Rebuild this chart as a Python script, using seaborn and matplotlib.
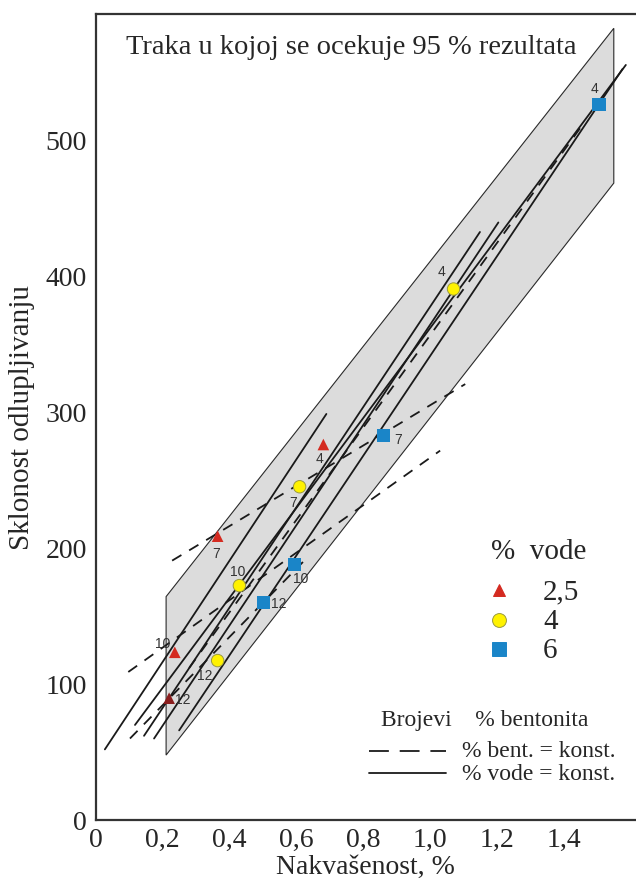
import numpy as np
import pandas as pd
import matplotlib
matplotlib.use("Agg")
import matplotlib.pyplot as plt
from matplotlib.lines import Line2D
from matplotlib.patches import Polygon
import seaborn as sns

# values
bentonite = [12, 10, 7, 4]
water_levels = ['2,5', '4', '6']

x_voda25 = [0.220, 0.237, 0.365, 0.681]
y_voda25 = [89.7, 123.5, 209.0, 276.5]
x_voda4 = [0.365, 0.430, 0.610, 1.070]
y_voda4 = [117.4, 172.6, 245.4, 391.0]
x_voda6 = [0.501, 0.594, 0.860, 1.505]
y_voda6 = [160.0, 188.0, 283.3, 527.0]

# 95 % band (corners)
band_x = [0.211, 0.211, 1.549, 1.549]
band_y = [47.8, 164.5, 583.0, 469.0]

# % vode = konst. (solid) and % bent. = konst. (dashed), end points
solid_x = [(0.028, 0.690), (0.118, 1.585), (0.145, 1.149), (0.175, 1.204), (0.250, 1.575)]
solid_y = [(52, 299), (70, 556), (62, 433), (60, 440), (66, 553)]
dashed_x = [(0.229, 1.105), (0.098, 1.030), (0.103, 0.620), (0.280, 1.450)]
dashed_y = [(191, 321), (109, 272), (60, 190), (112, 510)]

x_ticks = [0, 0.2, 0.4, 0.6, 0.8, 1.0, 1.2, 1.4]
x_tick_labels = ['0', '0,2', '0,4', '0,6', '0,8', '1,0', '1,2', '1,4']
y_ticks = [0, 100, 200, 300, 400, 500]

df = pd.DataFrame({
    'x': x_voda25 + x_voda4 + x_voda6,
    'y': y_voda25 + y_voda4 + y_voda6,
    'voda': [w for w in water_levels for _ in bentonite],
    'bent': bentonite * 3,
})

sns.set_style('white')
plt.rcParams['font.family'] = ['Liberation Serif', 'DejaVu Serif']

W, H = 636, 891
fig = plt.figure(figsize=(W / 100, H / 100), dpi=100)
ax = fig.add_axes([95.5 / W, 71 / H, 1 - 95.5 / W, 806 / H])
ax.set_xlim(0, 540.5 / 334.6)
ax.set_ylim(0, 806 / 1.358)

ax.add_patch(Polygon(list(zip(band_x, band_y)), closed=True, facecolor='#dcdcdc',
                     edgecolor='#2a2a2a', lw=0.8, zorder=1))

for xs, ys in zip(solid_x, solid_y):
    ax.plot(xs, ys, color='#1a1a1a', lw=1.3, zorder=3)
for xs, ys in zip(dashed_x, dashed_y):
    ax.plot(xs, ys, color='#1a1a1a', lw=1.3, dashes=(6, 5), zorder=3)

colors = {'2,5': '#d42a20', '4': '#fff200', '6': '#1a85c8'}
markers = {'2,5': '^', '4': 'o', '6': 's'}
sizes = {'2,5': 70, '4': 80, '6': 90}
edges = {'2,5': 'none', '4': '#9a9a40', '6': 'none'}
for w in water_levels:
    sub = df[df.voda == w]
    pal = {b: colors[w] for b in bentonite}
    if w == '2,5':
        pal[12] = '#8a1e1e'  # this one sits under a line and looks darker
    sns.scatterplot(data=sub, x='x', y='y', hue='bent', palette=pal,
                    marker=markers[w], s=sizes[w], edgecolor=edges[w],
                    linewidth=0.7, ax=ax, zorder=5, legend=False)

# number labels next to points (offsets in pixels)
offsets = {
    ('2,5', 12): (14, -2), ('2,5', 10): (-12, 8), ('2,5', 7): (-2, -18), ('2,5', 4): (-4, -14),
    ('4', 12): (-13, -15), ('4', 10): (-2, 14), ('4', 7): (-6, -16), ('4', 4): (-12, 17),
    ('6', 12): (16, -1), ('6', 10): (6, -14), ('6', 7): (15, -5), ('6', 4): (-5, 15),
}
for _, r in df.iterrows():
    ax.annotate(str(r.bent), (r.x, r.y), xytext=offsets[(r.voda, r.bent)],
                textcoords='offset pixels', ha='center', va='center',
                fontsize=10, family=['Liberation Sans', 'DejaVu Sans'],
                color='#333333', zorder=6)

ax.set_xticks(x_ticks)
ax.set_xticklabels(x_tick_labels)
ax.set_xticks([0.1, 0.3, 0.5, 0.7, 0.9, 1.1, 1.3, 1.5], minor=True)
ax.set_yticks(y_ticks)
ax.set_yticks([50, 150, 250, 350, 450, 550], minor=True)
ax.tick_params(which='both', direction='in', length=8, width=1.3, color='#333333',
               labelsize=20, pad=6)
ax.tick_params(axis='x', pad=6)
for s in ['left', 'bottom', 'top']:
    ax.spines[s].set_color('#333333')
    ax.spines[s].set_linewidth(1.6)
ax.spines['right'].set_visible(False)

ax.set_xlabel('Nakvašenost, %', fontsize=20, labelpad=1)
ax.set_ylabel('Sklonost odlupljivanju', fontsize=21, labelpad=8)

def fx(px):
    return px / W

def fy(py):
    return 1 - py / H

fig.text(fx(125.7), fy(54.5), 'Traka u kojoj se ocekuje 95 % rezultata',
         fontsize=20.5, va='baseline', ha='left')

# legend: % vode
fig.text(fx(491), fy(559), '%  vode', fontsize=21, va='baseline', ha='left')
leg_rows = [590, 620, 649]
for w, py in zip(water_levels, leg_rows):
    fig.add_artist(Line2D([fx(499)], [fy(py)], marker=markers[w], color=colors[w],
                          markersize={'2,5': 9, '4': 10, '6': 10}[w],
                          markeredgecolor=edges[w] if edges[w] != 'none' else colors[w],
                          markeredgewidth=0.7, linestyle='none',
                          transform=fig.transFigure))
    fig.text(fx(543), fy(py + 9), w, fontsize=21, va='baseline', ha='left')

# legend: line styles
fig.text(fx(381), fy(726), 'Brojevi    % bentonita', fontsize=17, va='baseline', ha='left')
fig.add_artist(Line2D([fx(369), fx(446)], [fy(750.7), fy(750.7)], color='#1a1a1a',
                      lw=1.3, dashes=(11, 6), transform=fig.transFigure))
fig.text(fx(461.6), fy(757), '% bent. = konst.', fontsize=17, va='baseline', ha='left')
fig.add_artist(Line2D([fx(369), fx(446)], [fy(773.3), fy(773.3)], color='#1a1a1a',
                      lw=1.3, transform=fig.transFigure))
fig.text(fx(461.6), fy(780), '% vode = konst.', fontsize=17, va='baseline', ha='left')

fig.savefig('out.png', dpi=100)
